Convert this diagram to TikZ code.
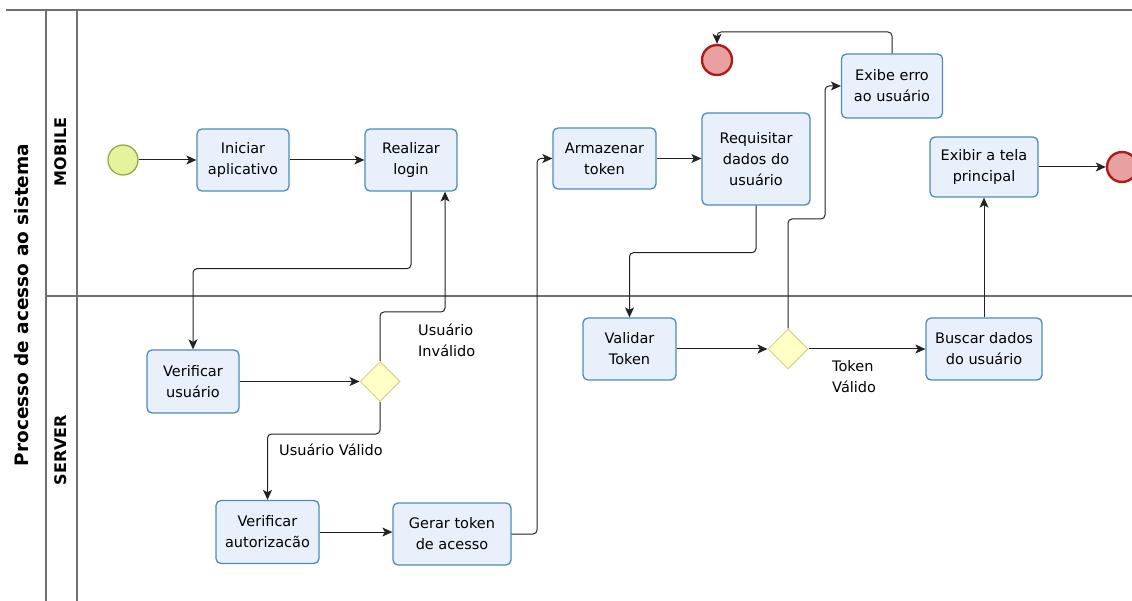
\documentclass[tikz,border=0pt]{standalone}
\usepackage{fontspec}
\setmainfont{DejaVu Sans}
\usetikzlibrary{shapes.geometric,arrows.meta}
\definecolor{boxfill}{HTML}{E8F0FC}
\definecolor{boxdraw}{HTML}{4F8BBA}
\definecolor{gwfill}{HTML}{FFFFC6}
\definecolor{gwdraw}{HTML}{D4D488}
\definecolor{startfill}{HTML}{E4F39C}
\definecolor{startdraw}{HTML}{8CA63A}
\definecolor{endfill}{HTML}{E9A0A0}
\definecolor{enddraw}{HTML}{B01A1A}
\definecolor{poolline}{HTML}{707070}
\definecolor{conn}{HTML}{222222}
\begin{document}
\begin{tikzpicture}[x=1pt,y=-1pt,
  task/.style={draw=boxdraw, fill=boxfill, line width=1.3pt, rounded corners=5pt,
    align=center, inner sep=0pt, font=\fontsize{14.5}{21}\selectfont},
  gw/.style={diamond, draw=gwdraw, fill=gwfill, line width=1pt, minimum width=40pt,
    minimum height=40pt, inner sep=0pt},
  startev/.style={circle, draw=startdraw, fill=startfill, line width=1.2pt, minimum size=30pt, inner sep=0pt},
  endev/.style={circle, draw=enddraw, fill=endfill, line width=2.4pt, minimum size=30pt, inner sep=0pt},
  flow/.style={draw=conn, line width=1pt, rounded corners=4pt,
    -{Stealth[length=10pt,width=9pt,inset=2.5pt]}},
  lbl/.style={align=left, inner sep=0pt, font=\fontsize{14.5}{21}\selectfont},
  lanelbl/.style={rotate=90, font=\bfseries\fontsize{16}{18}\selectfont, inner sep=0pt},
  poolbar/.style={draw=poolline, line width=2pt},
  poolthin/.style={draw=poolline, line width=1.4pt}
]
\useasboundingbox (0,0) rectangle (1132,601);
\fill[white] (0,0) rectangle (1132,601);

% pool and lanes
\draw[poolbar] (6,10) -- (1132,10);
\draw[poolbar] (46,10) -- (46,601);
\draw[poolthin] (77,10) -- (77,601);
\draw[poolbar] (46,296) -- (1132,296);
\node[rotate=90, font=\bfseries\fontsize{18.5}{21}\selectfont, inner sep=0pt] (pool) at (22,305) {Processo de acesso ao sistema};
\node[lanelbl] (mob) at (61,152) {MOBILE};
\node[lanelbl] (srv) at (61,450) {SERVER};

% mobile lane
\node[startev] (st) at (123,160) {};
\node[task, minimum width=92pt, minimum height=62pt] (t1) at (243,160) {Iniciar\\aplicativo};
\node[task, minimum width=92pt, minimum height=62pt] (t2) at (411,160) {Realizar\\login};
\node[task, minimum width=103pt, minimum height=61pt] (at) at (604.5,158.5) {Armazenar\\token};
\node[task, minimum width=108pt, minimum height=92pt] (rq) at (756,159) {Requisitar\\dados do\\usuário};
\node[task, minimum width=101pt, minimum height=64pt] (er) at (892,86) {Exibe erro\\ao usuário};
\node[endev] (e1) at (717,60) {};
\node[task, minimum width=108pt, minimum height=60pt] (ex) at (984,167) {Exibir a tela\\principal};
\node[endev] (e2) at (1122,167) {};

% server lane
\node[task, minimum width=92pt, minimum height=63pt] (vu) at (193,381.5) {Verificar\\usuário};
\node[gw] (g1) at (380,381.5) {};
\node[task, minimum width=103pt, minimum height=63pt] (va) at (267.5,532) {Verificar\\autorizacão};
\node[task, minimum width=118pt, minimum height=62pt] (gt) at (452,534) {Gerar token\\de acesso};
\node[task, minimum width=93pt, minimum height=62pt] (vt) at (629.5,349) {Validar\\Token};
\node[gw] (g2) at (788,349) {};
\node[task, minimum width=116pt, minimum height=62pt] (bd) at (984,349) {Buscar dados\\do usuário};

% bend points
\coordinate (c1) at (445,312);
\coordinate (c2) at (537,158.5);
\coordinate (c3) at (825,219);
\coordinate (c4) at (717,32);

% connectors
\draw[flow] (st) -- (t1);
\draw[flow] (t1) -- (t2);
\draw[flow] (t2.south) -- ++(0,77) -| (vu.north);
\draw[flow] (vu) -- (g1);
\draw[flow] (g1.north) |- (c1) -- (c1 |- t2.south);
\node[lbl, anchor=west] (linv) at (418,340.5) {Usuário\\Inválido};
\draw[flow] (g1.south) -- ++(0,32) -| (va.north);
\node[lbl] (lval) at (331,450) {Usuário Válido};
\draw[flow] (va) -- (va -| gt.west);
\draw[flow] (gt.east) -| (c2) -- (at.west);
\draw[flow] (at.east) -- (at.east -| rq.west);
\draw[flow] (rq.south) -- ++(0,47) -| (vt.north);
\draw[flow] (vt) -- (g2);
\draw[flow] (g2.north) |- (c3) |- (er.west);
\draw[flow] (er.north) |- (c4) -- (e1.north);
\draw[flow] (g2) -- (bd);
\node[lbl, anchor=west] (ltok) at (832,377) {Token\\Válido};
\draw[flow] (bd.north) -- (ex.south);
\draw[flow] (ex) -- (e2);
\end{tikzpicture}
\end{document}
